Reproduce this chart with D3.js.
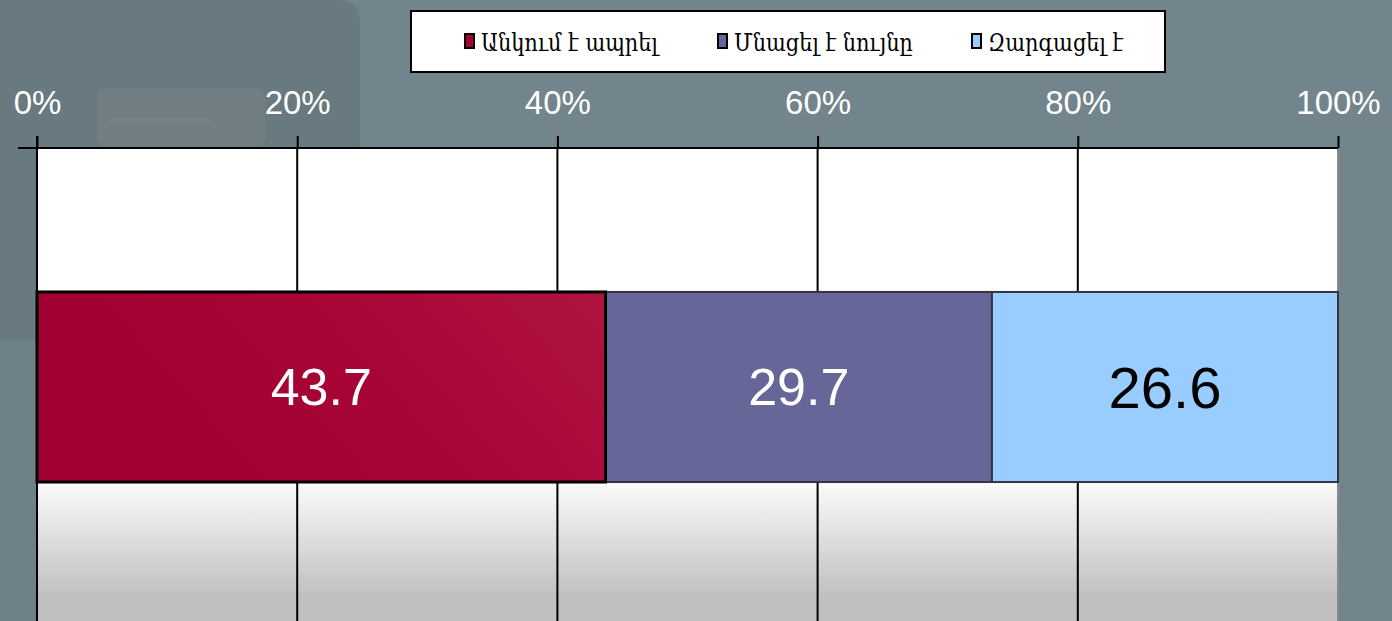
<!DOCTYPE html>
<html><head><meta charset="utf-8">
<script src="https://cdn.jsdelivr.net/npm/d3@7"></script>
<style>html,body{margin:0;padding:0;background:#6f8288;overflow:hidden}</style>
</head><body><svg id="c" width="1392" height="621"></svg>
<script>
const categories = ["Անկում է ապրել", "Մնացել է նույնը", "Զարգացել է"];
const values = [43.7, 29.7, 26.6];
const tickValues = [0, 20, 40, 60, 80, 100];
const tickLabels = ["0%", "20%", "40%", "60%", "80%", "100%"];
const rows = ["row"];

const svg = d3.select("#c");
const W = 1392, H = 621;
const defs = svg.append("defs");

// background
svg.append("rect").attr("width",W).attr("height",H).attr("fill","#72858c");
svg.append("path").attr("d","M0,0 H338 Q360,0 360,22 V340 H0 Z").attr("fill","#687a80");
svg.append("rect").attr("x",0).attr("y",340).attr("width",40).attr("height",H-340).attr("fill","#6e8187");
svg.append("rect").attr("x",97).attr("y",88).attr("width",168).attr("height",60).attr("rx",10).attr("fill","#717f84");
svg.append("rect").attr("x",110).attr("y",118).attr("width",100).attr("height",5).attr("fill","#77857f").attr("opacity",0.5);

const x = d3.scaleLinear().domain([0,100]).range([37,1338]);
const plotTop = 148, plotBottom = 626;
const y = d3.scaleBand().domain(rows).range([plotTop, plotBottom]).padding(0.431);

// plot area
const pg = defs.append("linearGradient").attr("id","pg").attr("x1",0).attr("x2",0).attr("y1",0).attr("y2",1);
[[0,"#ffffff"],[0.70,"#ffffff"],[0.71,"#f8f8f8"],[0.94,"#c0c0c0"],[1,"#c0c0c0"]].forEach(s=>pg.append("stop").attr("offset",s[0]).attr("stop-color",s[1]));
svg.append("rect").attr("x",x(0)).attr("y",plotTop).attr("width",x(100)-x(0)).attr("height",plotBottom-plotTop).attr("fill","url(#pg)");
svg.append("line").attr("x1",x(100)).attr("x2",x(100)).attr("y1",plotTop).attr("y2",plotBottom).attr("stroke","#8a8a8a").attr("stroke-width",2);

// gridlines
svg.append("g").selectAll("line").data(tickValues.slice(1,5)).join("line")
  .attr("x1",d=>x(d)).attr("x2",d=>x(d)).attr("y1",plotTop).attr("y2",plotBottom)
  .attr("stroke","#000").attr("stroke-width",2);

// bars
const starts = values.map((v,i)=>d3.sum(values.slice(0,i)));
const redG = defs.append("linearGradient").attr("id","redg").attr("x1",0).attr("x2",1).attr("y1",0.3).attr("y2",0);
redG.append("stop").attr("offset",0).attr("stop-color","#a10032");
redG.append("stop").attr("offset",0.5).attr("stop-color","#a60536");
redG.append("stop").attr("offset",1).attr("stop-color","#b11440");
const fills = ["url(#redg)","#666699","#99ccff"];
const strokes = ["#000","#333344","#333344"];
const sw = [3,2,2];
const labelColors = ["#ffffff","#ffffff","#000000"];
const labelSizes = [52,52,58];

const bars = svg.append("g");
[1,2,0].forEach(i=>{
  bars.append("rect")
    .attr("x",x(starts[i])).attr("y",y("row"))
    .attr("width",x(starts[i]+values[i])-x(starts[i]))
    .attr("height",y.bandwidth())
    .attr("fill",fills[i]).attr("stroke",strokes[i]).attr("stroke-width",sw[i]);
});
values.forEach((v,i)=>{
  svg.append("text")
    .attr("x",x(starts[i]+v/2)).attr("y",y("row")+y.bandwidth()/2)
    .attr("text-anchor","middle").attr("dominant-baseline","central")
    .attr("font-family","'Liberation Sans', Arial, sans-serif")
    .attr("font-size",labelSizes[i]).attr("fill",labelColors[i])
    .text(v.toFixed(1));
});

// left axis line
svg.append("line").attr("x1",x(0)).attr("x2",x(0)).attr("y1",plotTop-12).attr("y2",plotBottom).attr("stroke","#000").attr("stroke-width",2);

// top axis
const axis = d3.axisTop(x).tickValues(tickValues).tickSize(12).tickFormat((d,i)=>tickLabels[i]).tickSizeOuter(0);
const ag = svg.append("g").attr("transform",`translate(0,${plotTop})`).call(axis);
ag.select(".domain").remove();
ag.selectAll(".tick line").attr("stroke","#000").attr("stroke-width",2);
ag.selectAll(".tick text").attr("fill","#fff").attr("font-size",33).attr("font-family","'Liberation Sans', Arial, sans-serif").attr("dy",-19);
svg.append("line").attr("x1",18).attr("x2",x(100)).attr("y1",plotTop).attr("y2",plotTop).attr("stroke","#000").attr("stroke-width",2);

// legend
const lg = svg.append("g");
lg.append("rect").attr("x",411).attr("y",11).attr("width",754).attr("height",61).attr("fill","#fff").attr("stroke","#000").attr("stroke-width",2);
const legX = [465, 718, 972];
const legColors = ["#a50034","#666699","#99ccff"];
categories.forEach((c,i)=>{
  lg.append("rect").attr("x",legX[i]).attr("y",34).attr("width",9).attr("height",14).attr("fill",legColors[i]).attr("stroke","#000").attr("stroke-width",2);
  lg.append("text").attr("x",legX[i]+16).attr("y",51)
    .attr("font-family","'DejaVu Serif','DejaVu Sans','Noto Sans',sans-serif").attr("font-size",22).attr("fill","#000")
    .attr("transform",`translate(${legX[i]+16},51) scale(0.95,1.1) translate(${-(legX[i]+16)},-51)`)
    .text(c);
});
</script></body></html>
